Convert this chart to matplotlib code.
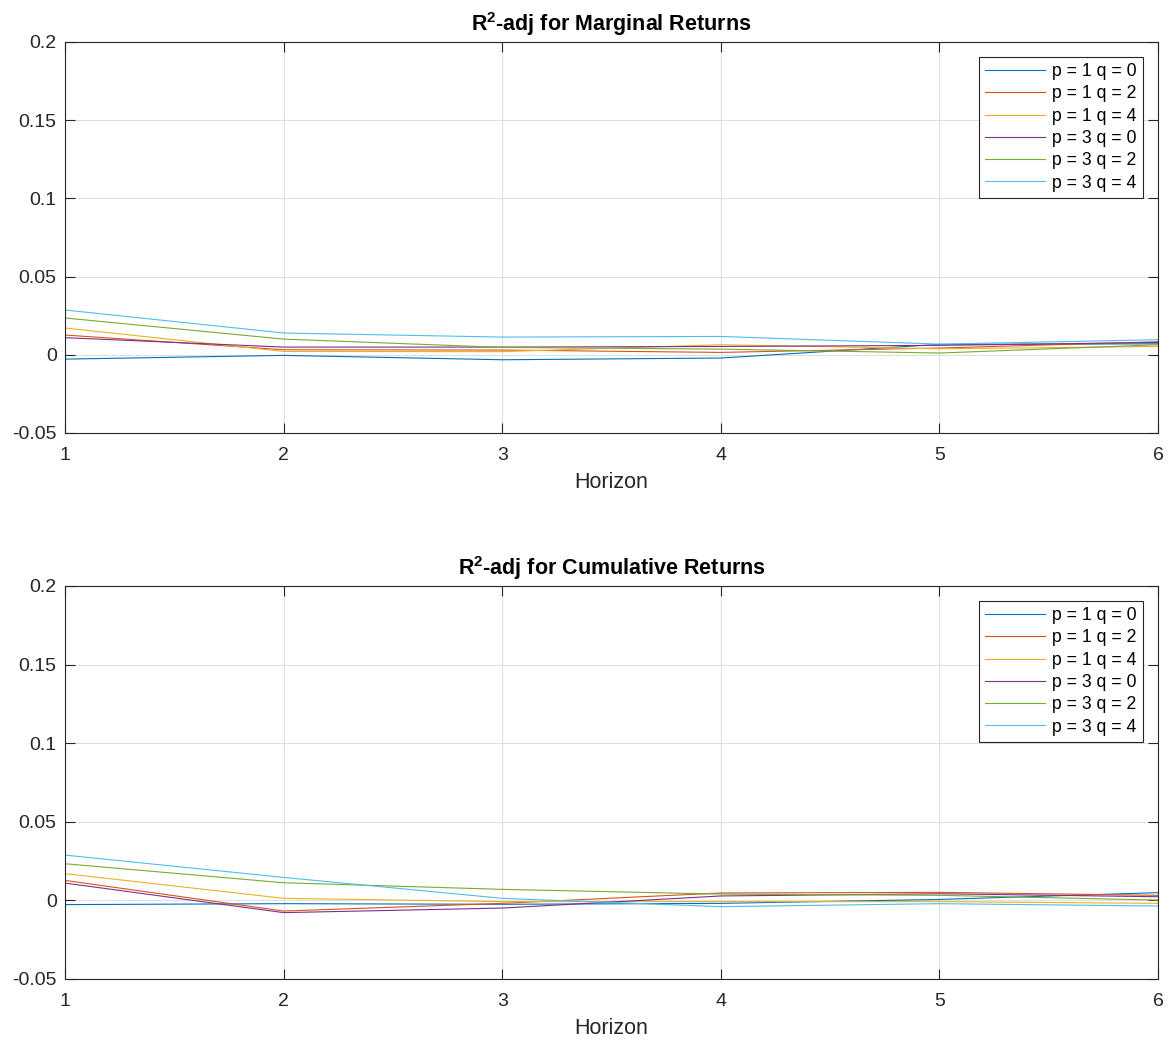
import matplotlib
matplotlib.use("Agg")
import matplotlib.pyplot as plt

plt.rcParams['font.family'] = ['Liberation Sans', 'DejaVu Sans']
plt.rcParams['mathtext.fontset'] = 'custom'
plt.rcParams['mathtext.bf'] = 'Liberation Sans:bold'
plt.rcParams['mathtext.rm'] = 'Liberation Sans'

horizon = [1, 2, 3, 4, 5, 6]
labels = ['p = 1 q = 0', 'p = 1 q = 2', 'p = 1 q = 4',
          'p = 3 q = 0', 'p = 3 q = 2', 'p = 3 q = 4']
colors = ['#0072BD', '#D95319', '#EDB120', '#7E2F8E', '#77AC30', '#4DBEEE']

# marginal returns
marg_p1q0 = [-0.0028, -0.0004, -0.0032, -0.0021, 0.0066, 0.0070]
marg_p1q2 = [0.0126, 0.0032, 0.0030, 0.0015, 0.0043, 0.0083]
marg_p1q4 = [0.0171, 0.0021, 0.0020, 0.0064, 0.0038, 0.0053]
marg_p3q0 = [0.0109, 0.0049, 0.0049, 0.0053, 0.0060, 0.0079]
marg_p3q2 = [0.0235, 0.0100, 0.0047, 0.0036, 0.0011, 0.0064]
marg_p3q4 = [0.0286, 0.0139, 0.0113, 0.0117, 0.0068, 0.0096]

# cumulative returns
cum_p1q0 = [-0.0027, -0.0021, -0.0025, -0.0019, 0.0006, 0.0049]
cum_p1q2 = [0.0127, -0.0068, -0.0019, 0.0047, 0.0051, 0.0032]
cum_p1q4 = [0.0170, 0.0013, -0.0008, -0.0008, -0.0008, -0.0019]
cum_p3q0 = [0.0110, -0.0078, -0.0049, 0.0028, 0.0042, 0.0023]
cum_p3q2 = [0.0233, 0.0112, 0.0070, 0.0040, 0.0032, 0.0002]
cum_p3q4 = [0.0288, 0.0146, 0.0013, -0.0040, -0.0021, -0.0036]

yticks = [-0.05, 0, 0.05, 0.1, 0.15, 0.2]
ytick_labels = ['-0.05', '0', '0.05', '0.1', '0.15', '0.2']

marginal = [marg_p1q0, marg_p1q2, marg_p1q4, marg_p3q0, marg_p3q2, marg_p3q4]
cumulative = [cum_p1q0, cum_p1q2, cum_p1q4, cum_p3q0, cum_p3q2, cum_p3q4]

fig = plt.figure(figsize=(11.76, 10.44), dpi=100)
ax1 = fig.add_axes([0.0553, 0.5853, 0.9294, 0.3745])
ax2 = fig.add_axes([0.0553, 0.0623, 0.9294, 0.3764])


def style_axes(ax, series, title):
    for vals, lab, c in zip(series, labels, colors):
        ax.plot(horizon, vals, color=c, lw=0.8, label=lab)
    ax.set_xlim(1, 6)
    ax.set_ylim(-0.05, 0.2)
    ax.set_xticks(horizon)
    ax.set_yticks(yticks)
    ax.set_yticklabels(ytick_labels)
    ax.grid(True, color='#dfdfdf', lw=0.8)
    ax.set_axisbelow(True)
    ax.tick_params(direction='in', length=7, width=0.8, top=True, right=True,
                   labelsize=14, colors='#262626')
    ax.tick_params(axis='x', pad=10)
    ax.tick_params(axis='y', pad=6)
    for s in ax.spines.values():
        s.set_color('#262626')
        s.set_linewidth(0.8)
    ax.set_xlabel('Horizon', fontsize=15.5, color='#262626', labelpad=6)
    ax.set_title(title, fontsize=15.5, fontweight='bold', pad=8)
    leg = ax.legend(loc='upper right', fontsize=12.7, fancybox=False,
                    edgecolor='#262626', framealpha=1, handlelength=3.4,
                    borderaxespad=0.85, labelspacing=0.3, handletextpad=0.4,
                    borderpad=0.35)
    leg.get_frame().set_linewidth(0.8)


style_axes(ax1, marginal, r'$\mathbf{R^2}$-adj for Marginal Returns')
style_axes(ax2, cumulative, r'$\mathbf{R^2}$-adj for Cumulative Returns')

fig.savefig('out.png', dpi=100)
